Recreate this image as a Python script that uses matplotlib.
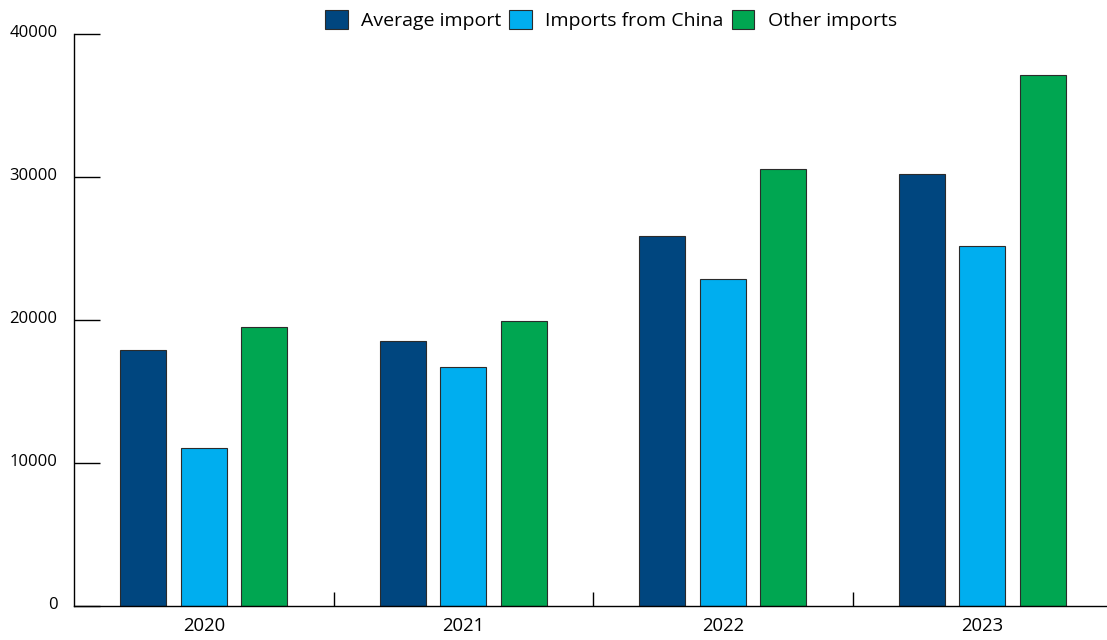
import matplotlib
matplotlib.use("Agg")
import matplotlib.pyplot as plt
import matplotlib.transforms as mtransforms
import numpy as np

years = ["2020", "2021", "2022", "2023"]
series_names = ["Average import", "Imports from China", "Other imports"]
average_import = [17900, 18550, 25850, 30200]
imports_china = [11050, 16700, 22850, 25200]
other_imports = [19500, 19950, 30550, 37150]
colors = ["#00467F", "#00AEEF", "#00A651"]
y_ticks = [0, 10000, 20000, 30000, 40000]

plt.rcParams['font.family'] = ['Open Sans', 'DejaVu Sans']

fig = plt.figure(figsize=(11.07, 6.40), dpi=100)
ax = fig.add_axes([74/1107, 34/640, 1038/1107, 572/640])

x = np.arange(len(years))
width = 0.177
step = 0.233
for i, (vals, name, c) in enumerate(zip([average_import, imports_china, other_imports], series_names, colors)):
    ax.bar(x + (i - 1) * step, vals, width, color=c, edgecolor="#2b2b2b", linewidth=0.8, label=name)

ax.set_xlim(-0.5, 3.5)
ax.set_ylim(0, 40000)
ax.set_yticks(y_ticks)
ax.set_yticklabels([str(v) for v in y_ticks], fontsize=12)
ax.tick_params(axis='y', direction='in', length=18.7, width=1, pad=12, colors='black')
offset = mtransforms.ScaledTranslation(0, 2/72, fig.dpi_scale_trans)
for lab in ax.get_yticklabels():
    lab.set_transform(lab.get_transform() + offset)

ax.set_xticks(x)
ax.set_xticklabels(years, fontsize=13.3)
ax.set_xticks([0.5, 1.5, 2.5], minor=True)
ax.tick_params(axis='x', which='major', length=0, pad=8)
ax.tick_params(axis='x', which='minor', direction='in', length=10, width=1)

for s in ['top', 'right']:
    ax.spines[s].set_visible(False)
for s in ['left', 'bottom']:
    ax.spines[s].set_linewidth(1.0)
    ax.spines[s].set_color('black')

fig.legend(loc='upper center', bbox_to_anchor=(0.552, 1.012), ncol=3, frameon=False,
           fontsize=14, handlelength=1.15, handleheight=1.15, handletextpad=0.7, columnspacing=0.4)

fig.savefig("out.png", dpi=100)
